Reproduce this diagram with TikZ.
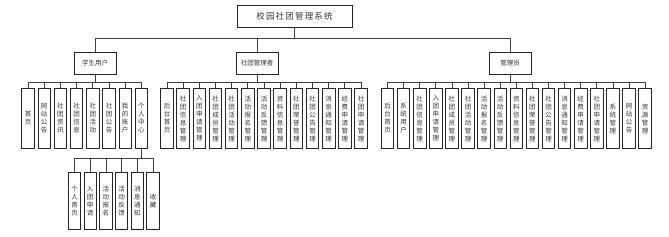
\documentclass[tikz,border=0pt]{standalone}
\usepackage{fontspec}
\newfontfamily\cjk{Noto Sans CJK SC}
\newfontfamily\cjkwide[LetterSpace=14]{Noto Sans CJK SC}
\begin{document}
\begin{tikzpicture}[x=1pt,y=1pt,
    box/.style={draw=black!85, line width=0.9pt, fill=white, inner sep=1pt,
        text=black!80, font=\cjk\fontsize{6.5}{8}\selectfont},
    head/.style={box, minimum width=42pt, minimum height=22pt},
    item/.style={box, anchor=north, minimum width=12.5pt, minimum height=60pt,
        inner sep=0pt, align=center},
    link/.style={draw=black!75, line width=0.8pt},
    ]
    \useasboundingbox (0,0) rectangle (669,-236);

    % root and the three roles
    \node [box, minimum width=115pt, minimum height=22pt,
        font=\cjkwide\fontsize{8.5}{10}\selectfont]
        (root) at (294.5,-16) {校园社团管理系统};

    \node [head] (stu)   at (95,-63)  {学生用户};
    \node [head] (club)  at (257,-63) {社团管理者};
    \node [head] (admin) at (510,-63) {管理员};

    \draw [link] (root.south) -- ++(0,-11) coordinate (hub);
    \foreach \p in {stu,club,admin}
        \draw [link] (hub) -| (\p.north);

    % student side
    \foreach \t [count=\i from 0] in {{首\\页},{网\\站\\公\\告},{社\\团\\资\\讯},
            {社\\团\\信\\息},{社\\团\\活\\动},{社\\团\\公\\告},{我\\的\\账\\户},
            {个\\人\\中\\心}}
        \node [item] (s\i) at (28+16.2*\i,-88) {\t};
    \foreach \i in {0,...,7}
        \draw [link] (stu.south) -- ++(0,-8) -| (s\i.north);

    \foreach \t [count=\i from 0] in {{个\\人\\首\\页},{入\\团\\申\\请},
            {活\\动\\报\\名},{活\\动\\反\\馈},{消\\息\\通\\知},{收\\藏}}
        \node [item, minimum height=57pt] (p\i) at (74.5+15.7*\i,-172) {\t};
    \foreach \i in {0,...,5}
        \draw [link] (s7.south) -- ++(0,-9) -| (p\i.north);

    % club manager side
    \foreach \t [count=\i from 0] in {{后\\台\\首\\页},{社\\团\\信\\息\\管\\理},
            {入\\团\\申\\请\\管\\理},{社\\团\\成\\员\\管\\理},{社\\团\\活\\动\\管\\理},
            {活\\动\\报\\名\\管\\理},{活\\动\\反\\馈\\管\\理},{资\\料\\信\\息\\管\\理},
            {社\\团\\荣\\誉\\管\\理},{社\\团\\公\\告\\管\\理},{消\\息\\通\\知\\管\\理},
            {经\\费\\申\\请\\管\\理},{社\\团\\申\\请\\管\\理}}
        \node [item] (c\i) at (167+16.17*\i,-88) {\t};
    \foreach \i in {0,...,12}
        \draw [link] (club.south) -- ++(0,-8) -| (c\i.north);

    % admin side
    \foreach \t [count=\i from 0] in {{后\\台\\首\\页},{系\\统\\用\\户},
            {社\\团\\信\\息\\管\\理},{入\\团\\申\\请\\管\\理},{社\\团\\成\\员\\管\\理},
            {社\\团\\活\\动\\管\\理},{活\\动\\报\\名\\管\\理},{活\\动\\反\\馈\\管\\理},
            {资\\料\\信\\息\\管\\理},{社\\团\\荣\\誉\\管\\理},{社\\团\\公\\告\\管\\理},
            {消\\息\\通\\知\\管\\理},{经\\费\\申\\请\\管\\理},{社\\团\\申\\请\\管\\理},
            {系\\统\\管\\理},{网\\站\\公\\告},{资\\源\\管\\理}}
        \node [item] (a\i) at (387.5+16.1*\i,-88) {\t};
    \foreach \i in {0,...,16}
        \draw [link] (admin.south) -- ++(0,-8) -| (a\i.north);
\end{tikzpicture}
\end{document}
